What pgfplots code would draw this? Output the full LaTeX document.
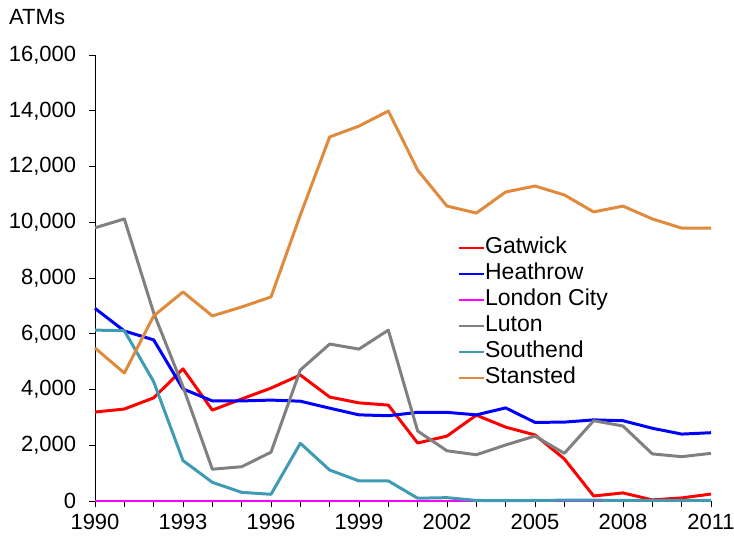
\documentclass[border=0pt]{standalone}
\usepackage{fontspec}
\setmainfont{Liberation Sans}
\usepackage{pgfplots}
\pgfplotsset{compat=1.18}
\definecolor{gatwick}{HTML}{FF0000}
\definecolor{heathrow}{HTML}{0000FF}
\definecolor{lcity}{HTML}{FF00FF}
\definecolor{luton}{HTML}{808080}
\definecolor{southend}{HTML}{3E9BB3}
\definecolor{stansted}{HTML}{E08A3C}

\begin{document}
\fontsize{23bp}{27bp}\selectfont
\begin{tikzpicture}
\useasboundingbox (-95bp,-40bp) rectangle (639bp,501bp);
\begin{axis}[
  at={(0,0)}, anchor=south west,
  scale only axis,
  width=616bp, height=446bp,
  xmin=1990, xmax=2011,
  ymin=0, ymax=16000,
  axis x line*=bottom,
  axis y line*=left,
  axis line style={black, line width=0.8pt},
  xtick={1990,1993,...,2011},
  minor xtick={1990,...,2011},
  ytick={0,2000,...,16000},
  scaled y ticks=false,
  tick align=outside,
  major tick length=6bp,
  minor tick length=6bp,
  tick style={black, line width=0.8pt},
  xticklabel style={/pgf/number format/1000 sep={}, yshift=1bp},
  yticklabel style={/pgf/number format/1000 sep={,}, xshift=-5bp},
  /pgf/number format/assume math mode=true,
  ticklabel style={font=\fontsize{22bp}{26bp}\selectfont},
  ylabel={ATMs},
  ylabel style={rotate=-90, at={(rel axis cs:0,1)}, anchor=base west,
    xshift=-86bp, yshift=30bp, font=\fontsize{22bp}{26bp}\selectfont, inner sep=0pt},
  clip=false,
  every axis plot/.append style={line width=3pt, no markers, line join=round},
  legend cell align=left,
  legend style={at={(axis cs:2002.25,9550)}, anchor=north west, draw=none, fill=none,
    font=\fontsize{23bp}{27bp}\selectfont, row sep=4bp,
    nodes={inner sep=0pt, text height=17bp, text depth=5bp}},
  legend image code/.code={\draw[#1, line width=2.6pt] (0bp,0bp) -- (25bp,0bp);},
]
\addplot[gatwick] coordinates {
(1990,3190) (1991,3300) (1992,3700) (1993,4740) (1994,3260) (1995,3660)
(1996,4050) (1997,4520) (1998,3730) (1999,3520) (2000,3440) (2001,2080)
(2002,2330) (2003,3080) (2004,2650) (2005,2370) (2006,1510) (2007,180)
(2008,290) (2009,40) (2010,110) (2011,250)};
\addlegendentry{Gatwick}
\addplot[heathrow] coordinates {
(1990,6910) (1991,6100) (1992,5780) (1993,4020) (1994,3590) (1995,3590)
(1996,3620) (1997,3580) (1998,3330) (1999,3090) (2000,3060) (2001,3180)
(2002,3180) (2003,3090) (2004,3340) (2005,2820) (2006,2830) (2007,2910)
(2008,2880) (2009,2610) (2010,2400) (2011,2450)};
\addlegendentry{Heathrow}
\addplot[lcity] coordinates {
(1990,0) (1991,0) (1992,0) (1993,0) (1994,0) (1995,0) (1996,0) (1997,0)
(1998,0) (1999,0) (2000,0) (2001,0) (2002,0) (2003,0) (2004,0) (2005,0)
(2006,0) (2007,0) (2008,0) (2009,0) (2010,0) (2011,0)};
\addlegendentry{London City}
\addplot[luton] coordinates {
(1990,9800) (1991,10120) (1992,6750) (1993,4100) (1994,1140) (1995,1230)
(1996,1750) (1997,4700) (1998,5630) (1999,5450) (2000,6130) (2001,2510)
(2002,1800) (2003,1660) (2004,2010) (2005,2330) (2006,1710) (2007,2880)
(2008,2690) (2009,1690) (2010,1590) (2011,1710)};
\addlegendentry{Luton}
\addplot[southend] coordinates {
(1990,6130) (1991,6110) (1992,4280) (1993,1450) (1994,670) (1995,310)
(1996,240) (1997,2070) (1998,1110) (1999,720) (2000,720) (2001,100)
(2002,120) (2003,20) (2004,10) (2005,20) (2006,30) (2007,30)
(2008,20) (2009,20) (2010,20) (2011,20)};
\addlegendentry{Southend}
\addplot[stansted] coordinates {
(1990,5490) (1991,4590) (1992,6640) (1993,7500) (1994,6640) (1995,6960)
(1996,7320) (1997,10260) (1998,13060) (1999,13450) (2000,13990) (2001,11870)
(2002,10580) (2003,10330) (2004,11085) (2005,11300) (2006,10980) (2007,10370)
(2008,10580) (2009,10120) (2010,9790) (2011,9790)};
\addlegendentry{Stansted}
\end{axis}
\end{tikzpicture}
\end{document}
